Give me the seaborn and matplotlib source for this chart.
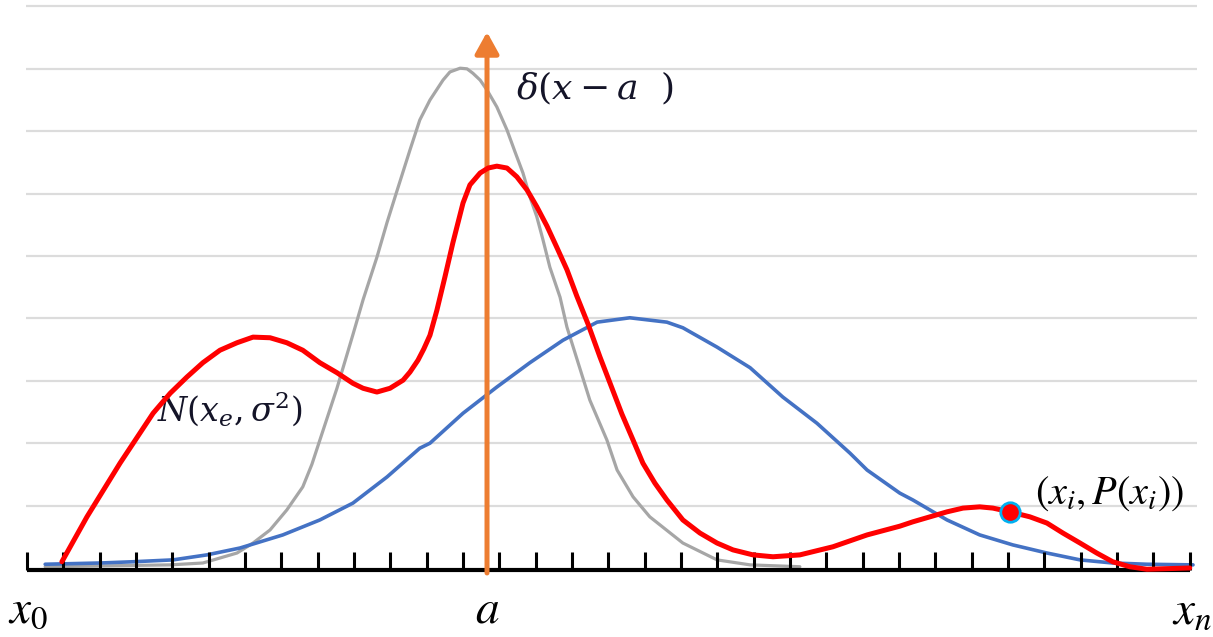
import numpy as np
import matplotlib
matplotlib.use("Agg")
import matplotlib.pyplot as plt
import seaborn as sns

# curves (x in tick steps, y in grid steps)
red_x = [0.96, 1.65, 2.56, 3.47, 3.94, 4.40, 4.84, 5.31, 5.78, 6.22, 6.69, 7.15, 7.59,
         8.06, 8.53, 8.97, 9.25, 9.63, 9.99, 10.35, 10.54, 10.76, 10.92, 11.09, 11.28,
         11.50, 11.72, 12.00, 12.19, 12.47, 12.69, 12.93, 13.21, 13.48, 13.76, 14.03,
         14.31, 14.58, 14.86, 15.13, 15.44, 15.77, 16.10, 16.37, 16.68, 16.95, 17.28,
         17.61, 18.05, 18.52, 18.99, 19.43, 19.98, 20.53, 21.27, 22.18, 23.12, 24.02,
         24.38, 25.32, 25.76, 26.22, 26.58, 27.05, 27.60, 28.07, 28.51, 28.98, 29.44,
         29.88, 30.35, 30.82, 32.00]
red_y = [0.10, 0.82, 1.68, 2.48, 2.80, 3.06, 3.29, 3.49, 3.61, 3.70, 3.69, 3.61, 3.49,
         3.29, 3.13, 2.96, 2.88, 2.82, 2.88, 3.01, 3.14, 3.33, 3.51, 3.73, 4.13,
         4.66, 5.21, 5.85, 6.14, 6.33, 6.41, 6.44, 6.41, 6.27, 6.06, 5.79,
         5.48, 5.14, 4.78, 4.36, 3.91, 3.38, 2.88, 2.47, 2.05, 1.68, 1.36,
         1.09, 0.77, 0.56, 0.40, 0.29, 0.21, 0.18, 0.21, 0.34, 0.53, 0.67,
         0.74, 0.90, 0.96, 0.98, 0.96, 0.90, 0.82, 0.72, 0.56, 0.40, 0.24,
         0.10, 0.02, -0.02, 0.00]

gray_x = [0.50, 3.94, 4.84, 5.78, 6.22, 6.69, 7.15, 7.59, 7.84, 8.06, 8.53, 8.97, 9.25,
          9.63, 9.91, 10.18, 10.54, 10.81, 11.09, 11.45, 11.64, 11.92, 12.11, 12.27,
          12.47, 12.66, 12.93, 13.21, 13.43, 13.65, 13.84, 14.03, 14.20, 14.39, 14.67,
          14.86, 15.49, 15.96, 16.24, 16.68, 17.14, 18.05, 18.99, 19.90, 21.27]
gray_y = [0.02, 0.05, 0.08, 0.24, 0.40, 0.61, 0.93, 1.30, 1.66, 2.05, 2.88, 3.74, 4.30,
          4.98, 5.54, 6.04, 6.70, 7.18, 7.50, 7.82, 7.95, 8.01, 8.00, 7.93,
          7.82, 7.66, 7.39, 7.02, 6.67, 6.33, 5.95, 5.63, 5.26, 4.82, 4.34,
          3.86, 2.69, 2.05, 1.57, 1.14, 0.82, 0.40, 0.13, 0.05, 0.02]

blue_x = [0.50, 2.01, 2.92, 4.02, 4.95, 5.86, 7.04, 8.06, 8.97, 9.91, 10.81, 11.09, 12.00,
          12.93, 13.84, 14.75, 15.69, 16.59, 17.61, 18.05, 18.99, 19.90, 20.80, 21.74,
          22.65, 23.12, 24.02, 24.38, 25.32, 26.22, 27.13, 28.07, 28.98, 29.88, 30.82, 32.09]
blue_y = [0.06, 0.08, 0.10, 0.13, 0.21, 0.32, 0.53, 0.77, 1.04, 1.46, 1.92, 2.00, 2.48,
          2.90, 3.29, 3.65, 3.94, 4.01, 3.94, 3.85, 3.54, 3.21, 2.74, 2.32,
          1.84, 1.57, 1.20, 1.09, 0.77, 0.53, 0.37, 0.24, 0.13, 0.08, 0.06, 0.05]

tick_pos = list(range(0, 33))
grid_levels = [1, 2, 3, 4, 5, 6, 7, 8, 9]
delta_at = 12.66
point_x, point_y = 27.05, 0.90

sns.set_style("white")

fig = plt.figure(figsize=(12.13, 6.37), dpi=100)
ax = fig.add_axes([0, 0, 1, 1])
ax.set_xlim(-0.743, 32.64)
ax.set_ylim(-1.106, 9.103)
ax.axis("off")

# background grid
ax.hlines(grid_levels, -0.03, 32.2, color="#dcdcdc", lw=1.6, zorder=1)

sns.lineplot(x=gray_x, y=gray_y, ax=ax, color="#a6a6a6", lw=2.3, sort=False, zorder=2,
             solid_joinstyle="round")
sns.lineplot(x=blue_x, y=blue_y, ax=ax, color="#4472c4", lw=2.6, sort=False, zorder=3,
             solid_joinstyle="round")

# x axis with ticks
ax.plot([0, 32], [-0.03, -0.03], color="black", lw=3, solid_capstyle="butt", zorder=4)
ax.vlines(tick_pos, -0.03, 0.26, color="black", lw=2.2, zorder=4)

# delta spike
ax.annotate("", xy=(delta_at, 8.59), xytext=(delta_at, -0.08),
            arrowprops=dict(arrowstyle="-|>,head_length=0.65,head_width=0.36",
                            color="#ed7d31", lw=3.6, mutation_scale=20,
                            shrinkA=0, shrinkB=0), zorder=5)

sns.lineplot(x=red_x, y=red_y, ax=ax, color="#ff0000", lw=3.6, sort=False, zorder=6,
             solid_joinstyle="round")
ax.plot(point_x, point_y, "o", ms=14, mfc="#ff0000", mec="#00b0f0", mew=2, zorder=7)

# labels
ink = "#141428"
ax.text(13.46, 7.69, r"$\delta(x-a\ \ )$", fontsize=26, color=ink, ha="left", va="center",
        math_fontfamily="dejavuserif")
ax.text(3.58, 2.55, r"$N(x_e,\sigma^2)$", fontsize=24, color=ink, ha="left", va="center",
        math_fontfamily="dejavuserif")
ax.text(27.74, 1.2, r"$\left(x_i,P\left(x_i\right)\right)$", fontsize=29, color="black",
        ha="left", va="center", math_fontfamily="stix")
ax.text(-0.52, -0.67, r"$x_0$", fontsize=34, color="black", ha="left", va="center",
        math_fontfamily="stix")
ax.text(delta_at, -0.67, r"$a$", fontsize=34, color="black", ha="center", va="center",
        math_fontfamily="stix")
ax.text(31.5, -0.70, r"$x_n$", fontsize=34, color="black", ha="left", va="center",
        math_fontfamily="stix")

fig.savefig("out.png", dpi=100)
